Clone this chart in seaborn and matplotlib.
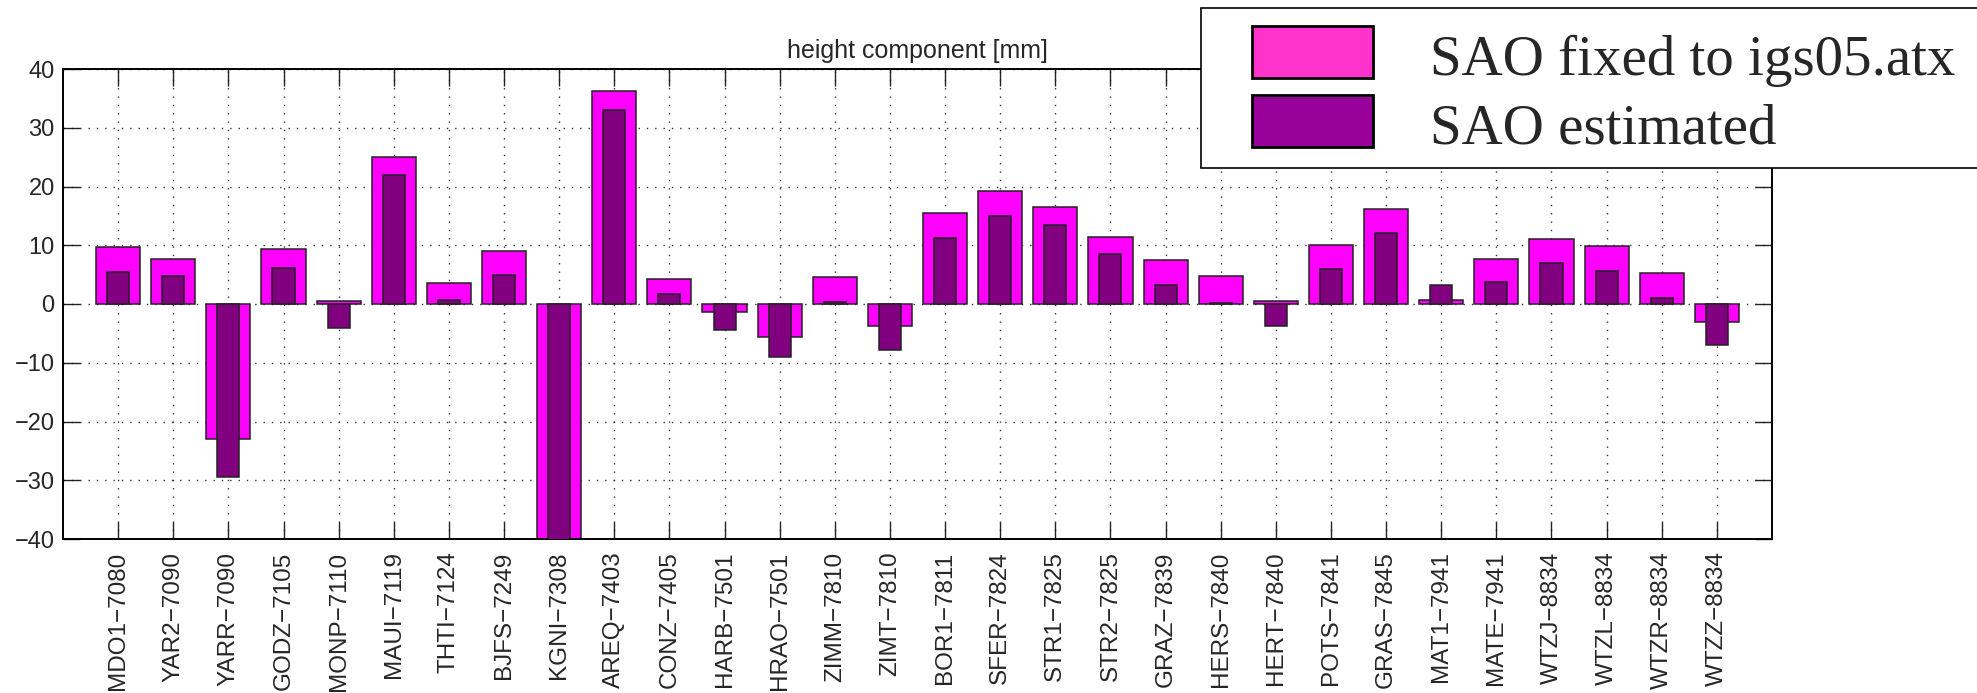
import matplotlib
matplotlib.use("Agg")
import matplotlib.pyplot as plt
from matplotlib.patches import Rectangle
import seaborn as sns
import pandas as pd

# GNSS stations (site - DOMES-like monument id)
stations = [
    "MDO1-7080", "YAR2-7090", "YARR-7090", "GODZ-7105", "MONP-7110",
    "MAUI-7119", "THTI-7124", "BJFS-7249", "KGNI-7308", "AREQ-7403",
    "CONZ-7405", "HARB-7501", "HRAO-7501", "ZIMM-7810", "ZIMT-7810",
    "BOR1-7811", "SFER-7824", "STR1-7825", "STR2-7825", "GRAZ-7839",
    "HERS-7840", "HERT-7840", "POTS-7841", "GRAS-7845", "MAT1-7941",
    "MATE-7941", "WTZJ-8834", "WTZL-8834", "WTZR-8834", "WTZZ-8834",
]

# height component [mm], SAO fixed to igs05.atx
sao_fixed = [
    9.7, 7.6, -22.9, 9.3, 0.5,
    25.0, 3.5, 9.1, -48.0, 36.2,
    4.2, -1.3, -5.7, 4.6, -3.8,
    15.5, 19.3, 16.5, 11.4, 7.5,
    4.7, 0.45, 10.1, 16.2, 0.6,
    7.6, 11.0, 9.8, 5.2, -3.1,
]

# height component [mm], SAO estimated
sao_estimated = [
    5.5, 4.7, -29.5, 6.1, -4.0,
    21.9, 0.7, 4.9, -55.0, 33.1,
    1.75, -4.5, -9.1, 0.3, -7.8,
    11.3, 14.9, 13.5, 8.5, 3.2,
    0.1, -3.8, 6.0, 12.1, 3.3,
    3.7, 6.9, 5.7, 1.1, -7.0,
]

legend_labels = ["SAO fixed to igs05.atx", "SAO estimated"]
legend_colors = ["#FF33CC", "#990099"]
yticks = [-40, -30, -20, -10, 0, 10, 20, 30, 40]

labels = [s.replace("-", "\u2212") for s in stations]
df = pd.DataFrame({"station": labels, "fixed": sao_fixed, "estimated": sao_estimated})

sns.set_theme(style="white")
plt.rcParams["font.family"] = ["Liberation Sans", "DejaVu Sans"]

W, H = 1977, 693


def fx(px):
    return px / W


def fy(py):
    return 1 - py / H


fig = plt.figure(figsize=(W / 100, H / 100), dpi=100)
ax = fig.add_axes([fx(63), fy(539), fx(1772 - 63), (539 - 69) / H])

edge = "#222222"
sns.barplot(data=df, x="station", y="fixed", color="#FF00FF", saturation=1,
            width=0.8, edgecolor=edge, linewidth=1.1, ax=ax, zorder=2)
sns.barplot(data=df, x="station", y="estimated", color="#800080", saturation=1,
            width=0.4, edgecolor=edge, linewidth=1.1, ax=ax, zorder=3)

ax.set_xlim(-1, len(stations))
ax.set_ylim(-40, 40)
ax.set_yticks(yticks)
ax.set_yticklabels([str(v).replace("-", "\u2212") for v in yticks])
ax.set_xticks(range(len(stations)))
ax.set_xticklabels(labels, rotation=90, fontsize=17.5)
ax.set_xlabel("")
ax.set_ylabel("")

ax.set_axisbelow(True)
ax.grid(True, which="major", axis="both", linestyle=(0, (1, 5)),
        color="#333333", linewidth=1.0)
ax.tick_params(axis="both", which="major", direction="in", length=12,
               width=1.0, color="#222222", top=True, right=True,
               bottom=True, left=True)
ax.tick_params(axis="y", labelsize=17, pad=6)
ax.tick_params(axis="x", pad=9)
for sp in ax.spines.values():
    sp.set_color("black")
    sp.set_linewidth(1.4)

ax.set_title("height component [mm]", fontsize=18, pad=8)

# legend box, drawn in figure pixel coordinates
frame = Rectangle((fx(1201), fy(168)), fx(2000 - 1201), (168 - 8) / H,
                  transform=fig.transFigure, facecolor="white",
                  edgecolor="black", linewidth=1.2, clip_on=False, zorder=5)
fig.add_artist(frame)
swatch_rows = [(26, 78, 75), (95, 147, 143)]
for (top, bottom, baseline), color, text in zip(swatch_rows, legend_colors, legend_labels):
    fig.add_artist(Rectangle((fx(1252), fy(bottom)), fx(1373 - 1252), (bottom - top) / H,
                             transform=fig.transFigure, facecolor=color,
                             edgecolor="black", linewidth=2.0, zorder=6))
    fig.text(fx(1430), fy(baseline), text, fontsize=41, va="baseline", ha="left",
             family=["Liberation Serif", "DejaVu Serif"], zorder=7)

fig.savefig("out.png", dpi=100)
